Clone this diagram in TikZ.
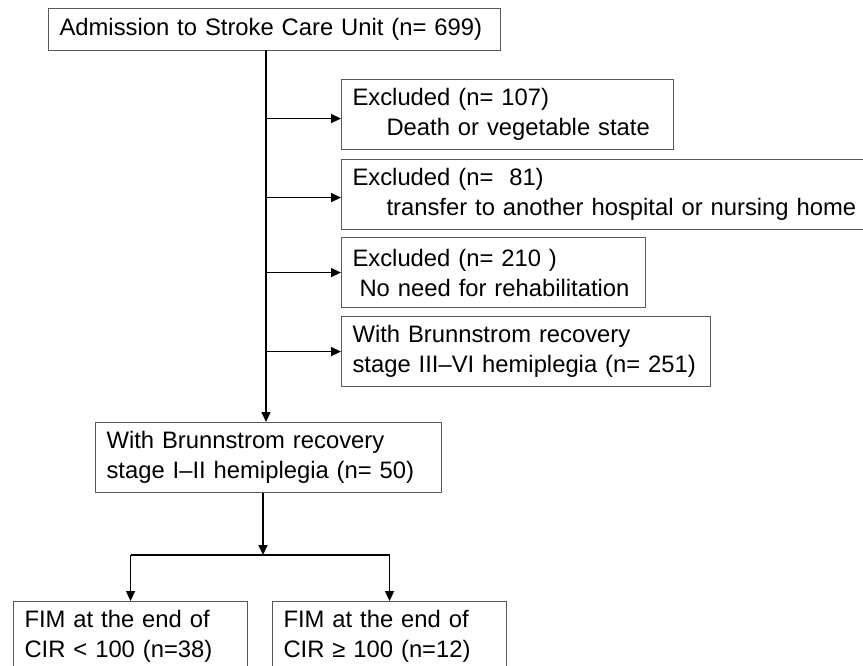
\documentclass[tikz,border=0pt]{standalone}
\usepackage{fontspec}
\setmainfont{Liberation Sans}
\usepackage{tikz}
\usetikzlibrary{arrows.meta,positioning}

\begin{document}
\begin{tikzpicture}[x=1pt,y=-1pt,
  boxstyle/.style={draw=black!65,line width=1.1pt,anchor=north west,align=left,
    inner xsep=11pt,inner ysep=0pt,minimum height=70pt,
    font=\fontsize{23.8}{30}\selectfont},
  linestyle/.style={draw=black,line width=1.6pt},
  arrowstyle/.style={linestyle,-{Triangle[length=10pt,width=9pt]}}]
\useasboundingbox (0,0) rectangle (863,666);
\clip (0,0) rectangle (863,666);
\fill[white] (0,0) rectangle (863,666);

\node[boxstyle,minimum height=42pt,text width=430pt] (adm) at (48,8)
  {Admission to Stroke Care Unit (n= 699)};
\node[boxstyle,text width=310pt] (exdeath) at (341,79)
  {Excluded (n= 107)\\\hspace*{34pt}Death or vegetable state};
\node[boxstyle,text width=540pt] (extrans) at (341,159)
  {Excluded (n=~ 81)\\\hspace*{34pt}transfer to another hospital or nursing home};
\node[boxstyle,text width=282pt] (exrehab) at (341,237)
  {Excluded (n= 210 )\\\hspace*{7pt}No need for rehabilitation};
\node[boxstyle,text width=347pt] (brsIIIVI) at (341,316)
  {With Brunnstrom recovery\\stage III--VI hemiplegia (n= 251)};
\node[boxstyle,text width=324pt] (brsIII) at (95,422)
  {With Brunnstrom recovery\\stage I--II hemiplegia (n= 50)};
\node[boxstyle,text width=212pt] (cirlow) at (13,601)
  {FIM at the end of\\CIR < 100 (n=38)};
\node[boxstyle,text width=212pt] (cirhigh) at (272,601)
  {FIM at the end of\\CIR ≥ 100 (n=12)};

\coordinate (trunk) at (266,50);
\coordinate (split) at (263,555);

\draw[arrowstyle] (trunk) -- (trunk |- brsIII.north);
\draw[arrowstyle] ([yshift=-4pt]trunk |- exdeath.west) -- ([yshift=-4pt]exdeath.west);
\draw[arrowstyle] ([yshift=-3pt]trunk |- extrans.west) -- ([yshift=-3pt]extrans.west);
\draw[arrowstyle] (trunk |- exrehab.west) -- (exrehab.west);
\draw[arrowstyle] (trunk |- brsIIIVI.west) -- (brsIIIVI.west);

\draw[arrowstyle] (split |- brsIII.south) -- (split);
\draw[linestyle] (cirlow.north |- split) -- (cirhigh.north |- split);
\draw[arrowstyle] (cirlow.north |- split) -- (cirlow.north);
\draw[arrowstyle] (cirhigh.north |- split) -- (cirhigh.north);
\end{tikzpicture}
\end{document}
